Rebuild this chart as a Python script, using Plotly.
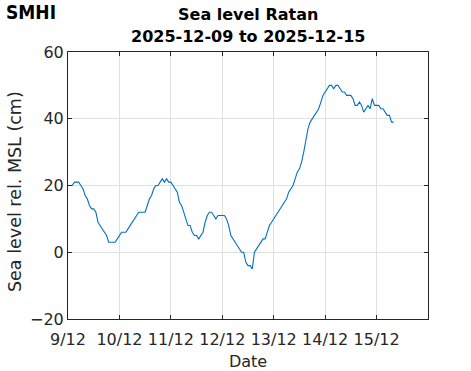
import plotly.graph_objects as go
import pandas as pd

# Hourly sea level readings (cm rel. MSL) starting 2025-12-09 00:00
start_time = "2025-12-09 00:00"
sea_level = [
    20, 20, 20, 21, 21, 21, 20, 19, 17, 16,
    14, 13, 13, 12, 9, 8, 7, 6, 5, 3,
    3, 3, 3, 4, 5, 6, 6, 6, 7, 8,
    9, 10, 11, 12, 12, 12, 12, 14, 16, 17,
    19, 20, 20, 21, 22, 21, 22, 21, 21, 20,
    19, 18, 15, 14, 12, 10, 8, 8, 6, 5,
    5, 4, 5, 6, 9, 11, 12, 12, 11, 10,
    11, 11, 11, 11, 10, 8, 5, 4, 3, 2,
    1, 0, 0, -3, -4, -4, -5, 0, 1, 2,
    3, 4, 4, 6, 8, 9, 10, 11, 12, 13,
    14, 15, 16, 18, 19, 20, 22, 24, 25, 27,
    30, 34, 37, 39, 40, 41, 42, 43, 45, 47,
    48, 49, 50, 50, 49, 50, 50, 49, 48, 48,
    47, 47, 47, 46, 44, 44, 45, 44, 42, 43,
    44, 43, 46, 44, 44, 44, 43, 43, 42, 41,
    41, 39, 39,
]
times = pd.date_range(start_time, periods=len(sea_level), freq="h")

x_range = ["2025-12-09", "2025-12-16"]
x_ticks = ["2025-12-09", "2025-12-10", "2025-12-11", "2025-12-12",
           "2025-12-13", "2025-12-14", "2025-12-15"]
x_tick_labels = ["9/12", "10/12", "11/12", "12/12", "13/12", "14/12", "15/12"]
y_range = [-20, 60]
y_ticks = [-20, 0, 20, 40, 60]
title_line1 = "Sea level Ratan"
title_line2 = "2025-12-09 to 2025-12-15"
x_title = "Date"
y_title = "Sea level rel. MSL (cm)"

FONT = "DejaVu Sans"
AX = "#262626"

fig = go.Figure()
fig.add_trace(go.Scatter(x=times, y=sea_level, mode="lines",
                         line=dict(color="#0072BD", width=1.1),
                         showlegend=False, hoverinfo="skip"))

axis_common = dict(
    showline=True, linecolor=AX, linewidth=1, mirror="ticks",
    ticks="inside", ticklen=4, tickcolor=AX, tickwidth=1,
    showgrid=True, gridcolor="#e0e0e0", gridwidth=1,
    zeroline=False, automargin=False,
    tickfont=dict(family=FONT, size=16, color=AX),
)

fig.update_layout(
    width=471, height=371,
    margin=dict(l=68, r=43, t=52, b=52),
    paper_bgcolor="white", plot_bgcolor="white",
    font=dict(family=FONT, color=AX),
    xaxis=dict(range=x_range, type="date", tickvals=x_ticks, ticktext=x_tick_labels,
               ticklabelstandoff=6,
               title=dict(text=x_title, font=dict(family=FONT, size=16, color=AX), standoff=8),
               **axis_common),
    yaxis=dict(range=y_range, tickvals=y_ticks, **axis_common),
    annotations=[
        dict(text="<b>" + title_line1 + "</b>", xref="paper", yref="paper",
             x=0.5, y=1.0, yanchor="middle", yshift=38, showarrow=False,
             font=dict(family=FONT, size=16, color="black")),
        dict(text="<b>" + title_line2 + "</b>", xref="paper", yref="paper",
             x=0.5, y=1.0, yanchor="middle", yshift=16, showarrow=False,
             font=dict(family=FONT, size=16, color="black")),
        dict(text=y_title, xref="paper", yref="paper", textangle=-90,
             x=(15 - 68) / 360, y=(319 - 192) / 267, xanchor="center", yanchor="middle",
             showarrow=False, font=dict(family=FONT, size=17.5, color=AX)),
        dict(text="<b>SMHI</b>", xref="paper", yref="paper",
             x=-0.178, y=1.0, xanchor="left", yanchor="middle", yshift=40,
             showarrow=False,
             font=dict(family="DejaVu Sans Condensed", size=19, color="black")),
    ],
)

fig.write_html("out.html", config={"displayModeBar": False},
               post_script="document.body.style.margin='0';document.body.style.overflow='hidden';")
